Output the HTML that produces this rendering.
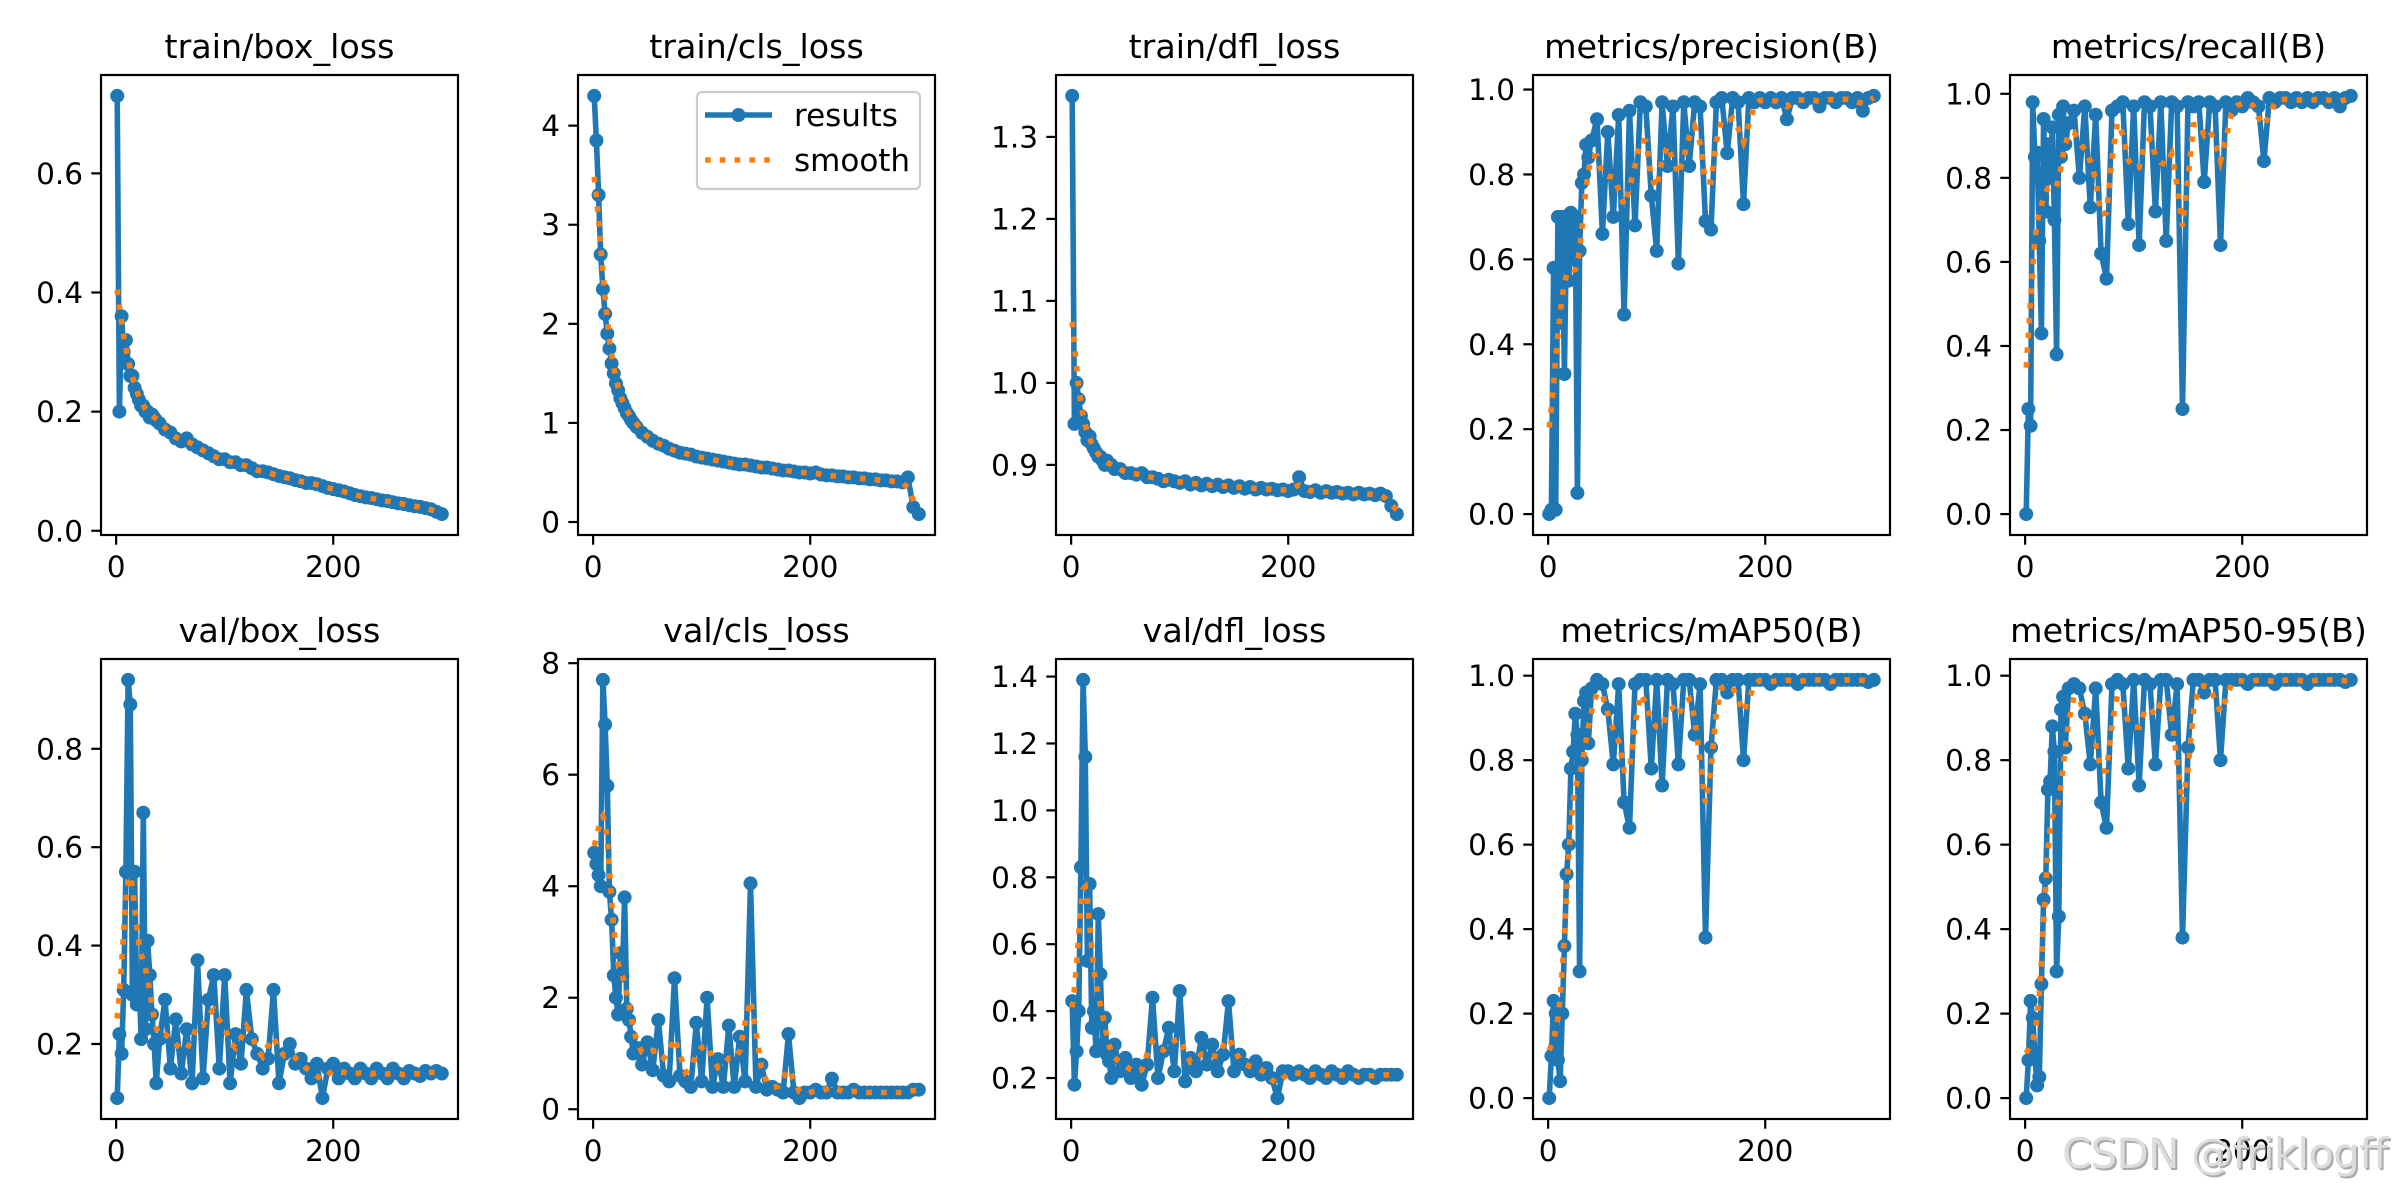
<!DOCTYPE html>
<html><head><meta charset="utf-8"><title>YOLO training results</title>
<style>
html,body{margin:0;padding:0;background:#fff;}
svg{display:block;}
text{font-family:"DejaVu Sans","Liberation Sans",sans-serif;}
</style></head>
<body>
<svg id="fig" width="2400" height="1200" viewBox="0 0 2400 1200" xmlns="http://www.w3.org/2000/svg">
<rect width="2400" height="1200" fill="#fff"/>
</svg>
<script>
const epochs = [1,3,5,7,9,11,13,15,17,19,21,23,25,27,29,31,33,35,37,40,45,50,55,60,65,70,75,80,85,90,95,100,105,110,115,120,125,130,135,140,145,150,155,160,165,170,175,180,185,190,195,200,205,210,215,220,225,230,235,240,245,250,255,260,265,270,275,280,285,290,295,300];

const trainBox = [0.73,0.20,0.36,0.30,0.32,0.28,0.26,0.26,0.24,0.23,0.22,0.21,0.21,0.20,0.20,0.19,0.195,0.19,0.185,0.18,0.17,0.165,0.155,0.15,0.155,0.145,0.14,0.135,0.13,0.125,0.12,0.12,0.115,0.115,0.11,0.11,0.105,0.10,0.10,0.098,0.095,0.092,0.09,0.088,0.085,0.083,0.08,0.08,0.078,0.075,0.072,0.07,0.068,0.066,0.063,0.06,0.058,0.056,0.055,0.053,0.051,0.05,0.048,0.046,0.045,0.043,0.041,0.04,0.038,0.036,0.032,0.028];
const trainCls = [4.3,3.85,3.3,2.7,2.35,2.1,1.9,1.75,1.6,1.5,1.4,1.33,1.25,1.2,1.15,1.1,1.07,1.03,1.0,0.96,0.9,0.86,0.82,0.79,0.77,0.74,0.72,0.70,0.69,0.68,0.66,0.65,0.64,0.63,0.62,0.61,0.60,0.59,0.58,0.58,0.57,0.56,0.55,0.55,0.54,0.53,0.52,0.52,0.51,0.50,0.50,0.49,0.50,0.48,0.47,0.47,0.46,0.46,0.45,0.45,0.44,0.44,0.43,0.43,0.42,0.42,0.41,0.41,0.40,0.45,0.15,0.08];
const trainDfl = [1.35,0.95,1.0,0.98,0.96,0.95,0.94,0.93,0.935,0.925,0.92,0.915,0.91,0.91,0.905,0.90,0.905,0.90,0.90,0.895,0.895,0.89,0.89,0.888,0.89,0.885,0.885,0.883,0.88,0.882,0.88,0.878,0.88,0.876,0.878,0.875,0.877,0.874,0.876,0.873,0.875,0.872,0.874,0.871,0.873,0.87,0.872,0.87,0.871,0.869,0.87,0.868,0.87,0.885,0.868,0.867,0.869,0.866,0.868,0.866,0.867,0.865,0.866,0.864,0.866,0.864,0.865,0.863,0.865,0.862,0.85,0.84];
const precision = [0.0,0.01,0.58,0.01,0.70,0.45,0.70,0.33,0.70,0.55,0.71,0.60,0.70,0.05,0.62,0.78,0.80,0.87,0.84,0.88,0.93,0.66,0.90,0.70,0.94,0.47,0.95,0.68,0.97,0.96,0.75,0.62,0.97,0.82,0.96,0.59,0.97,0.82,0.97,0.96,0.69,0.67,0.97,0.98,0.85,0.98,0.97,0.73,0.98,0.97,0.98,0.97,0.98,0.97,0.98,0.93,0.98,0.98,0.97,0.98,0.98,0.96,0.98,0.98,0.97,0.98,0.98,0.97,0.98,0.95,0.98,0.985];
const recall = [0.0,0.25,0.21,0.98,0.85,0.86,0.65,0.43,0.94,0.72,0.88,0.80,0.92,0.70,0.38,0.95,0.85,0.97,0.88,0.93,0.96,0.80,0.97,0.73,0.95,0.62,0.56,0.96,0.97,0.98,0.69,0.97,0.64,0.98,0.97,0.72,0.98,0.65,0.98,0.97,0.25,0.98,0.97,0.98,0.79,0.98,0.97,0.64,0.98,0.96,0.98,0.97,0.99,0.98,0.97,0.84,0.99,0.98,0.99,0.99,0.98,0.99,0.98,0.99,0.98,0.99,0.99,0.98,0.99,0.97,0.99,0.995];
const valBox = [0.09,0.22,0.18,0.31,0.55,0.94,0.89,0.30,0.55,0.28,0.35,0.21,0.67,0.23,0.41,0.34,0.26,0.20,0.12,0.21,0.29,0.15,0.25,0.14,0.23,0.12,0.37,0.13,0.29,0.34,0.15,0.34,0.12,0.22,0.16,0.31,0.21,0.18,0.15,0.17,0.31,0.12,0.18,0.20,0.16,0.17,0.15,0.13,0.16,0.09,0.15,0.16,0.13,0.15,0.14,0.13,0.15,0.14,0.13,0.15,0.14,0.13,0.15,0.14,0.13,0.145,0.14,0.135,0.145,0.14,0.145,0.14];
const valCls = [4.6,4.4,4.2,4.0,7.7,6.9,5.8,3.9,3.4,2.4,2.0,1.7,2.8,2.4,3.8,1.8,1.6,1.3,1.0,1.1,0.8,1.2,0.7,1.6,0.6,0.5,2.35,0.6,0.5,0.4,1.55,0.5,2.0,0.4,0.9,0.4,1.5,0.4,1.3,0.5,4.05,0.4,0.8,0.35,0.4,0.35,0.3,1.35,0.3,0.2,0.3,0.3,0.35,0.3,0.3,0.55,0.3,0.3,0.3,0.35,0.3,0.3,0.3,0.3,0.3,0.3,0.3,0.3,0.3,0.3,0.35,0.35];
const valDfl = [0.43,0.18,0.28,0.40,0.83,1.39,1.16,0.55,0.78,0.35,0.40,0.28,0.69,0.51,0.30,0.38,0.27,0.25,0.20,0.30,0.22,0.26,0.20,0.24,0.18,0.24,0.44,0.20,0.28,0.35,0.22,0.46,0.19,0.26,0.22,0.32,0.24,0.30,0.22,0.27,0.43,0.22,0.27,0.24,0.22,0.25,0.21,0.23,0.20,0.14,0.22,0.22,0.21,0.22,0.21,0.20,0.22,0.21,0.20,0.22,0.21,0.20,0.22,0.21,0.20,0.21,0.21,0.20,0.21,0.21,0.21,0.21];
const map50 = [0.0,0.10,0.23,0.20,0.09,0.04,0.20,0.36,0.53,0.60,0.78,0.82,0.91,0.86,0.30,0.80,0.94,0.96,0.84,0.97,0.99,0.98,0.92,0.79,0.98,0.70,0.64,0.98,0.99,0.99,0.78,0.99,0.74,0.99,0.98,0.79,0.99,0.99,0.86,0.98,0.38,0.83,0.99,0.99,0.96,0.99,0.99,0.80,0.99,0.99,0.99,0.99,0.98,0.99,0.99,0.99,0.99,0.98,0.99,0.99,0.99,0.99,0.99,0.98,0.99,0.99,0.99,0.99,0.99,0.99,0.985,0.99];
const map5095 = [0.0,0.09,0.23,0.19,0.10,0.03,0.05,0.27,0.47,0.52,0.73,0.75,0.88,0.82,0.30,0.43,0.92,0.95,0.83,0.97,0.98,0.97,0.91,0.79,0.97,0.70,0.64,0.98,0.99,0.98,0.78,0.99,0.74,0.99,0.98,0.79,0.99,0.99,0.86,0.98,0.38,0.83,0.99,0.99,0.96,0.99,0.99,0.80,0.99,0.99,0.99,0.99,0.98,0.99,0.99,0.99,0.99,0.98,0.99,0.99,0.99,0.99,0.99,0.98,0.99,0.99,0.99,0.99,0.99,0.99,0.985,0.99];

const titles = ["train/box_loss","train/cls_loss","train/dfl_loss","metrics/precision(B)","metrics/recall(B)","val/box_loss","val/cls_loss","val/dfl_loss","metrics/mAP50(B)","metrics/mAP50-95(B)"];
const series = [trainBox,trainCls,trainDfl,precision,recall,valBox,valCls,valDfl,map50,map5095];
const yTicks = [[0,0.2,0.4,0.6],[0,1,2,3,4],[0.9,1.0,1.1,1.2,1.3],[0,0.2,0.4,0.6,0.8,1.0],[0,0.2,0.4,0.6,0.8,1.0],[0.2,0.4,0.6,0.8],[0,2,4,6,8],[0.2,0.4,0.6,0.8,1.0,1.2,1.4],[0,0.2,0.4,0.6,0.8,1.0],[0,0.2,0.4,0.6,0.8,1.0]];
const yTickLabels = [["0.0","0.2","0.4","0.6"],["0","1","2","3","4"],["0.9","1.0","1.1","1.2","1.3"],["0.0","0.2","0.4","0.6","0.8","1.0"],["0.0","0.2","0.4","0.6","0.8","1.0"],["0.2","0.4","0.6","0.8"],["0","2","4","6","8"],["0.2","0.4","0.6","0.8","1.0","1.2","1.4"],["0.0","0.2","0.4","0.6","0.8","1.0"],["0.0","0.2","0.4","0.6","0.8","1.0"]];
const xTicks = [0,200];
const xTickLabels = ["0","200"];

const NS = "http://www.w3.org/2000/svg";
const svg = document.getElementById('fig');
function mk(tag, attrs, parent){
  const e = document.createElementNS(NS, tag);
  for (const k in attrs) e.setAttribute(k, attrs[k]);
  (parent||svg).appendChild(e);
  return e;
}
const AX_W = 357, AX_H = 460;
const colLeft = [101,578,1056,1533,2010];
const rowTop = [75,659];
const BLUE = "#1f77b4", ORANGE = "#ff7f0e";
const TICK_FS = 29.5;

function smooth(xs, ys, sigma){
  return ys.map((_, i) => {
    let s = 0, w = 0;
    for (let j = 0; j < ys.length; j++){
      const d = xs[j]-xs[i];
      const g = Math.exp(-d*d/(2*sigma*sigma));
      s += g*ys[j]; w += g;
    }
    return s/w;
  });
}

series.forEach((vals, idx) => {
  const n = Math.min(vals.length, epochs.length);
  const xs = epochs.slice(0,n), ys = vals.slice(0,n);
  const L = colLeft[idx%5], T = rowTop[Math.floor(idx/5)];
  const xmin0 = Math.min(...xs), xmax0 = Math.max(...xs);
  const ymin0 = Math.min(...ys), ymax0 = Math.max(...ys);
  const xm = (xmax0-xmin0)*0.05, ym = (ymax0-ymin0)*0.05;
  const x0 = xmin0-xm, x1 = xmax0+xm, y0 = ymin0-ym, y1 = ymax0+ym;
  const sx = v => L + (v-x0)/(x1-x0)*AX_W;
  const sy = v => T + AX_H - (v-y0)/(y1-y0)*AX_H;

  const g = mk('g', {});
  
  

  const clipId = 'clip'+idx;
  const cp = mk('clipPath', {id: clipId}, g);
  mk('rect', {x:L, y:T, width:AX_W, height:AX_H}, cp);

  const pts = xs.map((x,i)=>sx(x).toFixed(1)+','+sy(ys[i]).toFixed(1)).join(' ');
  const pl = mk('polyline', {points:pts, fill:'none', stroke:BLUE, 'stroke-width':5.6, 'stroke-linejoin':'round', 'clip-path':'url(#'+clipId+')'}, g);
  
  
  const mg = mk('g', {fill:BLUE, 'clip-path':'url(#'+clipId+')'}, g);
  
  
  xs.forEach((x,i)=>{
    const c = mk('circle', {cx:sx(x).toFixed(1), cy:sy(ys[i]).toFixed(1), r:7}, mg);
    
    
  });
  const sm = smooth(xs, ys, 5);
  const spts = xs.map((x,i)=>sx(x).toFixed(1)+','+sy(sm[i]).toFixed(1)).join(' ');
  const sl = mk('polyline', {points:spts, fill:'none', stroke:ORANGE, 'stroke-width':5.6, 'stroke-dasharray':'5.6 9.2', 'clip-path':'url(#'+clipId+')'}, g);
  
  

  const fr = mk('rect', {x:L, y:T, width:AX_W, height:AX_H, fill:'none', stroke:'#000', 'stroke-width':2.2}, g);
  
  

  yTicks[idx].forEach((v,k)=>{
    const y = sy(v);
    const tl = mk('line', {x1:L-9.7, x2:L, y1:y, y2:y, stroke:'#000', 'stroke-width':2.2}, g);
    
    
    const t = mk('text', {x:L-18, y:y+10.5, 'text-anchor':'end', 'font-size':TICK_FS, fill:'#000'}, g);
    t.textContent = yTickLabels[idx][k];
    
    
  });
  xTicks.forEach((v,k)=>{
    const x = sx(v);
    const tl = mk('line', {x1:x, x2:x, y1:T+AX_H, y2:T+AX_H+9.7, stroke:'#000', 'stroke-width':2.2}, g);
    
    
    const t = mk('text', {x:x, y:T+AX_H+42, 'text-anchor':'middle', 'font-size':TICK_FS, fill:'#000'}, g);
    t.textContent = xTickLabels[k];
    
    
  });
  const tt = mk('text', {x:L+AX_W/2, y:T-17, 'text-anchor':'middle', 'font-size':33.3, fill:'#000'}, g);
  tt.textContent = titles[idx];
  
  
});

const lg = mk('g', {});


mk('rect', {x:697, y:92, width:223, height:97, rx:5, fill:'#fff', 'fill-opacity':0.8, stroke:'#cccccc', 'stroke-width':2.2}, lg);
const le1 = mk('g', {}, lg);


mk('line', {x1:705, x2:772, y1:115, y2:115, stroke:BLUE, 'stroke-width':5.6}, le1);
mk('circle', {cx:738.5, cy:115, r:7, fill:BLUE}, le1);
const lt1 = mk('text', {x:794, y:126, 'font-size':31, fill:'#000'}, le1);
lt1.textContent = 'results';
const le2 = mk('g', {}, lg);


mk('line', {x1:705, x2:772, y1:160, y2:160, stroke:ORANGE, 'stroke-width':5.6, 'stroke-dasharray':'5.6 9.2'}, le2);
const lt2 = mk('text', {x:794, y:171, 'font-size':31, fill:'#000'}, le2);
lt2.textContent = 'smooth';

const wm2 = mk('text', {x:2064, y:1170, 'font-size':42, fill:'#aaaaaa', 'font-family':'Liberation Sans, sans-serif', 'textLength':326});
wm2.textContent = 'CSDN @friklogff';


const wm = mk('text', {x:2062, y:1168, 'font-size':42, fill:'#dcdcdc', 'font-family':'Liberation Sans, sans-serif', 'textLength':326});
wm.textContent = 'CSDN @friklogff';


</script>
</body></html>
